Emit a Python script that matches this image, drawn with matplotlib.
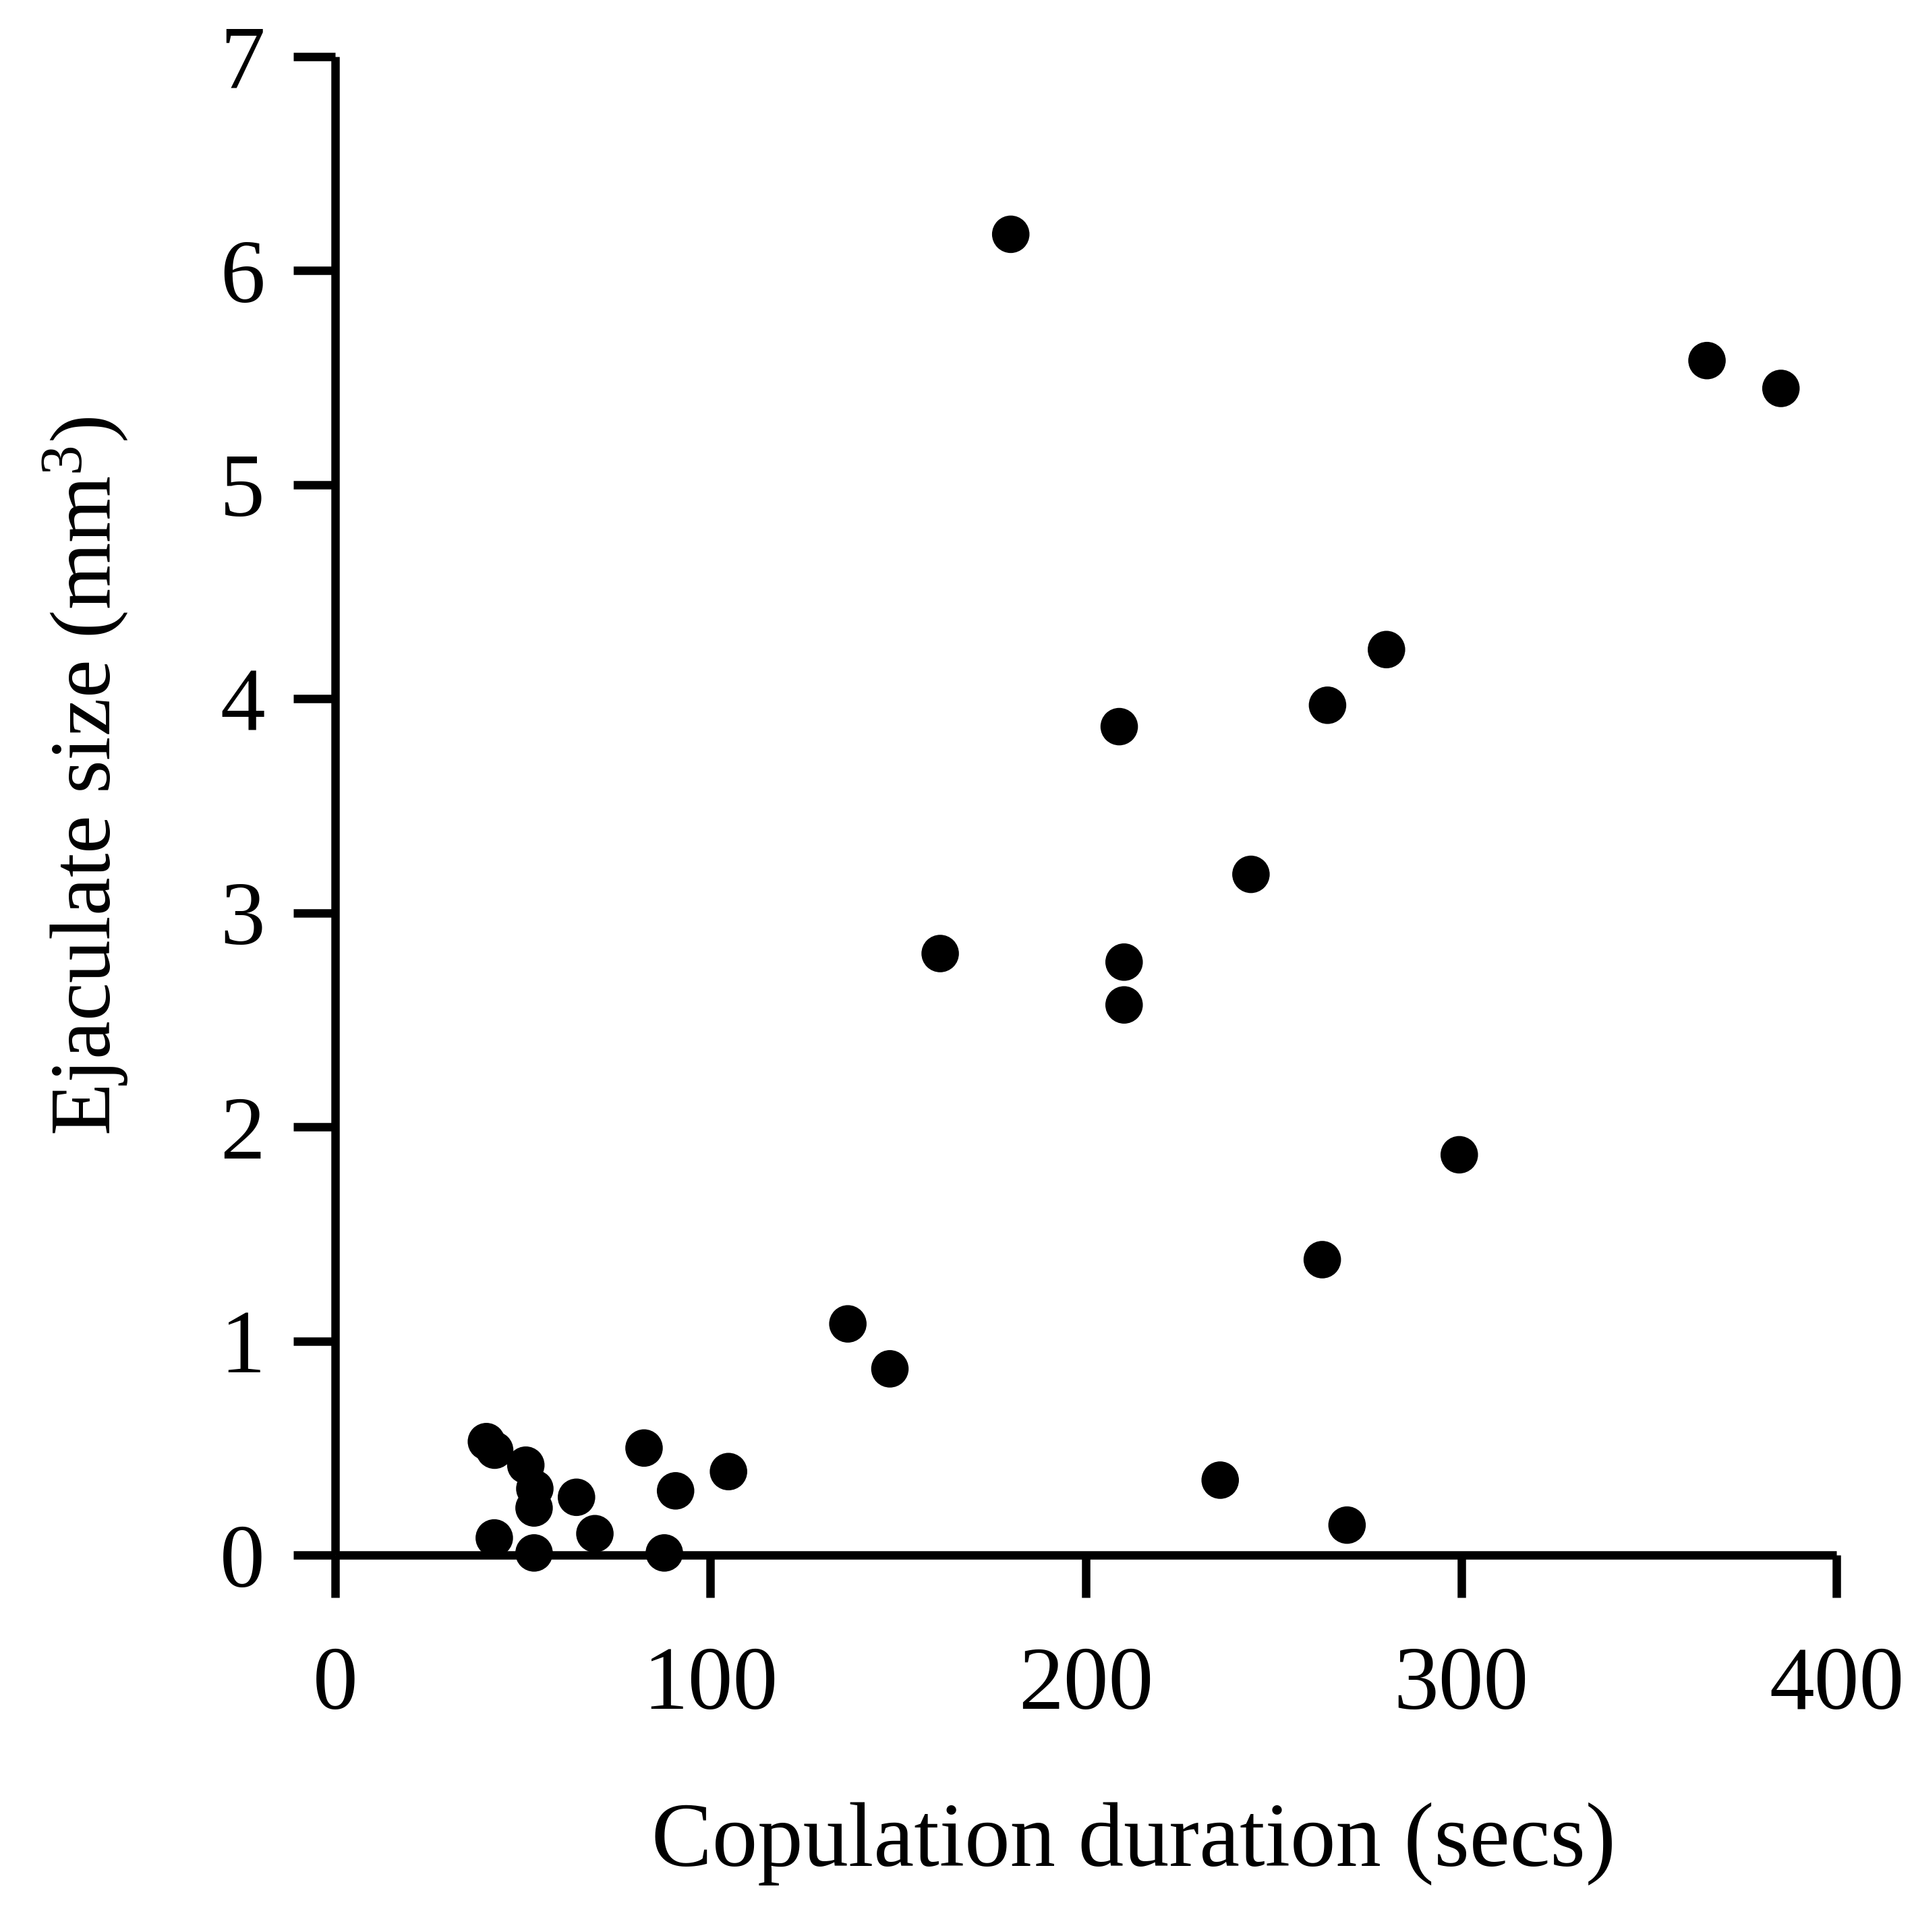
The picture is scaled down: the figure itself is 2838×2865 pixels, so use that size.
import matplotlib.pyplot as plt

plt.rcParams['font.family'] = ['Liberation Serif', 'DejaVu Serif']
plt.rcParams['mathtext.fontset'] = 'custom'
plt.rcParams['mathtext.rm'] = 'Liberation Serif'
plt.rcParams['mathtext.it'] = 'Liberation Serif:italic'

# copulation duration (secs)
duration = [180.0, 365.5, 385.2, 280.1, 264.4, 208.9, 244.0, 161.2, 210.2, 210.2,
            299.5, 263.0, 136.6, 147.8, 235.8, 269.6,
            40.3, 42.5, 50.8, 53.2, 53.0, 64.3, 69.2, 42.4, 53.0, 87.7,
            82.3, 90.7, 104.8]
# ejaculate size (mm^3)
ejaculate = [6.17, 5.58, 5.45, 4.23, 3.97, 3.87, 3.18, 2.81, 2.77, 2.57,
             1.87, 1.38, 1.08, 0.87, 0.35, 0.14,
             0.53, 0.49, 0.42, 0.31, 0.22, 0.27, 0.10, 0.08, 0.01, 0.01,
             0.50, 0.30, 0.39]

x_ticks = [0, 100, 200, 300, 400]
y_ticks = [0, 1, 2, 3, 4, 5, 6, 7]

fig = plt.figure(figsize=(28.38, 28.65), dpi=100)
ax = fig.add_axes([0.1751, 0.1951, 0.7844, 0.7756])

ax.scatter(duration, ejaculate, s=1600, color='black', edgecolors='none',
           clip_on=False, zorder=3)

ax.set_xlim(0, 400)
ax.set_ylim(0, 7)
ax.set_xticks(x_ticks)
ax.set_yticks(y_ticks)

for side in ['top', 'right']:
    ax.spines[side].set_visible(False)
for side in ['left', 'bottom']:
    ax.spines[side].set_linewidth(9)
    ax.spines[side].set_capstyle('butt')

ax.tick_params(axis='both', direction='out', length=45, width=9,
               labelsize=96, colors='black')
ax.tick_params(axis='x', pad=52)
ax.tick_params(axis='y', pad=30)

ax.set_xlabel('Copulation duration (secs)', fontsize=97)
ax.set_ylabel(r'Ejaculate size (mm$^3$)', fontsize=92)
ax.xaxis.set_label_coords(0.532, -0.165)
ax.yaxis.set_label_coords(-0.137, 0.52)

fig.savefig('out.png', dpi=100, facecolor='white')
